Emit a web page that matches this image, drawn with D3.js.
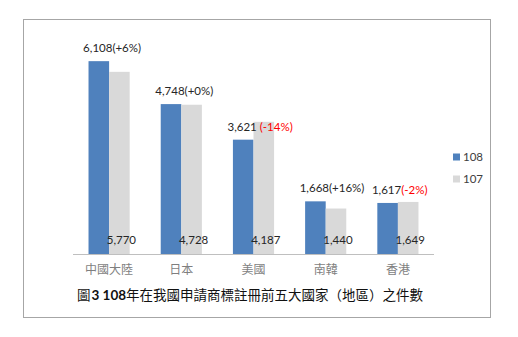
<!DOCTYPE html>
<html>
<head>
<meta charset="utf-8">
<script src="https://cdn.jsdelivr.net/npm/d3@7"></script>
<style>
  html, body { margin: 0; padding: 0; background: #fff; }
  svg { display: block; }
</style>
</head>
<body>
<svg id="chart" width="518" height="337"></svg>
<script>
// Top five filers of trademark applications, year 108 vs 107
const categories = ["中國大陸", "日本", "美國", "南韓", "香港"];
const series = ["108", "107"];
const values108 = [6108, 4748, 3621, 1668, 1617];
const values107 = [5770, 4728, 4187, 1440, 1649];
const changeLabels = ["(+6%)", "(+0%)", " (-14%)", "(+16%)", "(-2%)"];
const titleText = ["圖", "3 108", "年在我國申請商標註冊前五大國家（地區）之件數"];

const colors = { "108": "#4f81bd", "107": "#d9d9d9" };
const numFont = "Lato, 'Open Sans', sans-serif";
const cjkFont = "'Noto Sans CJK TC', 'Noto Sans CJK SC', sans-serif";
const fmt = d3.format(",");
const isDrop = s => s.trim().startsWith("(-");

const svg = d3.select("#chart");

// outer frame
svg.append("rect")
  .attr("x", 23.5).attr("y", 19.5)
  .attr("width", 467).attr("height", 298)
  .attr("fill", "#fff").attr("stroke", "#a6a6a6").attr("stroke-width", 1);

const plot = { left: 73, right: 434, top: 33, bottom: 254 };

const x0 = d3.scaleBand().domain(categories)
  .range([plot.left, plot.right]).paddingInner(0.43).paddingOuter(0.215);
const x1 = d3.scaleBand().domain(series).range([0, x0.bandwidth()]);
const y = d3.scaleLinear().domain([0, 7000]).range([plot.bottom, plot.top]);

const rows = categories.map((c, i) => ({
  cat: c, v108: values108[i], v107: values107[i], change: changeLabels[i]
}));

const groups = svg.append("g").selectAll("g").data(rows).join("g")
  .attr("transform", d => `translate(${x0(d.cat)},0)`);

groups.selectAll("rect").data(d => [
  { s: "108", v: d.v108 }, { s: "107", v: d.v107 }
]).join("rect")
  .attr("x", d => x1(d.s))
  .attr("y", d => y(d.v))
  .attr("width", x1.bandwidth())
  .attr("height", d => y(0) - y(d.v))
  .attr("fill", d => colors[d.s]);

// axis baseline
svg.append("line")
  .attr("x1", plot.left).attr("x2", plot.right)
  .attr("y1", plot.bottom + 0.5).attr("y2", plot.bottom + 0.5)
  .attr("stroke", "#bfbfbf");

// category axis labels
const xAxis = d3.axisBottom(x0).tickSize(0).tickPadding(11);
const ax = svg.append("g").attr("transform", `translate(0,${plot.bottom})`).call(xAxis);
ax.select(".domain").remove();
ax.selectAll("text")
  .attr("font-family", cjkFont).attr("font-size", 12).attr("fill", "#7f7f7f");

// 108 value labels with year-on-year change
const valueLabels = groups.append("text")
  .attr("x", x0.bandwidth() / 2 + 2)
  .attr("y", d => y(d.v108) - 9)
  .attr("font-family", numFont).attr("font-size", 11.5).attr("fill", "#262626")
  .attr("text-anchor", "start")
  .style("white-space", "pre");
valueLabels.append("tspan").text(d => fmt(d.v108))
  .attr("dx", -28);
valueLabels.append("tspan")
  .text(d => d.change)
  .attr("fill", d => isDrop(d.change) ? "#ff0000" : "#262626");

// 107 value labels at the foot of the bars
groups.append("text")
  .attr("x", d => x1("107") + x1.bandwidth() / 2 + 2)
  .attr("y", plot.bottom - 10)
  .attr("text-anchor", "middle")
  .attr("font-family", numFont).attr("font-size", 11.5).attr("fill", "#262626")
  .text(d => fmt(d.v107));

// legend
const legend = svg.append("g").selectAll("g").data(series).join("g")
  .attr("transform", (d, i) => `translate(453,${157 + i * 22})`);
legend.append("rect").attr("x", 0).attr("y", -3.5).attr("width", 7).attr("height", 7)
  .attr("fill", d => colors[d]);
legend.append("text").attr("x", 10).attr("y", 4)
  .attr("font-family", numFont).attr("font-size", 11.5).attr("fill", "#404040")
  .text(d => d);

// caption
const title = svg.append("text")
  .attr("x", 77).attr("y", 300)
  .attr("font-family", cjkFont).attr("font-size", 13.5).attr("fill", "#111");
title.append("tspan").text(titleText[0]);
title.append("tspan").text(titleText[1]).attr("font-family", numFont)
  .attr("font-weight", "bold").attr("dx", 1);
title.append("tspan").text(titleText[2]);
</script>
</body>
</html>
